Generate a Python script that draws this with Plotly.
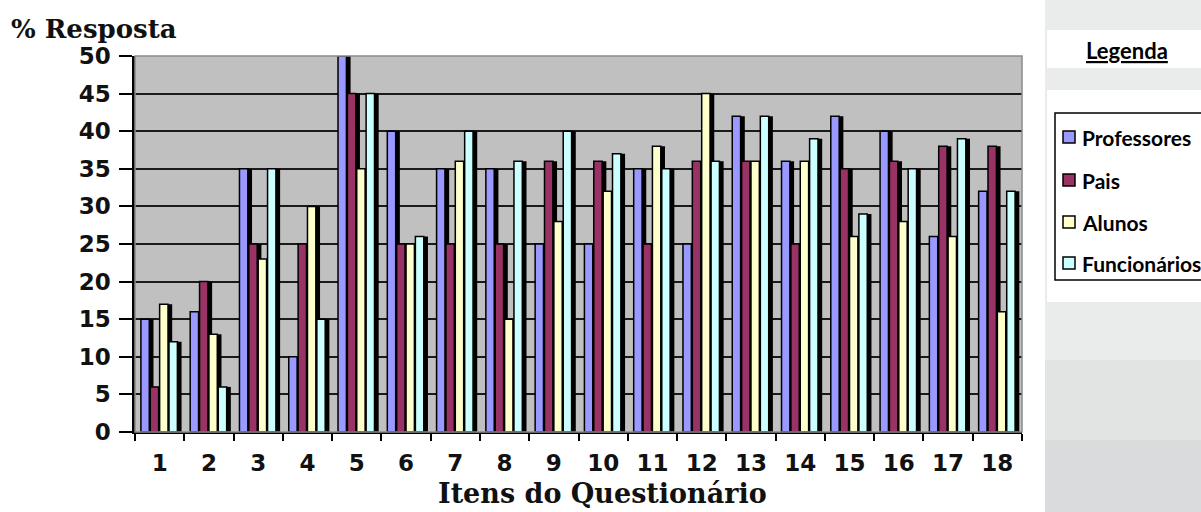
import plotly.graph_objects as go

itens = list(range(1, 19))
tick_labels = [str(i) for i in itens]
series_names = ["Professores", "Pais", "Alunos", "Funcionários"]
professores = [15, 16, 35, 10, 50, 40, 35, 35, 25, 25, 35, 25, 42, 36, 42, 40, 26, 32]
pais = [6, 20, 25, 25, 45, 25, 25, 25, 36, 36, 25, 36, 36, 25, 35, 36, 38, 38]
alunos = [17, 13, 23, 30, 35, 25, 36, 15, 28, 32, 38, 45, 36, 36, 26, 28, 26, 16]
funcionarios = [12, 6, 35, 15, 45, 26, 40, 36, 40, 37, 35, 36, 42, 39, 29, 35, 39, 32]
values = [professores, pais, alunos, funcionarios]
colors = ["#9999FF", "#993366", "#FFFFCC", "#CCFFFF"]

W, H = 1201, 512
ml, mr, mt, mb = 135, 179, 56, 80
pw, ph = W - ml - mr, H - mt - mb

def px(x):
    return (x - ml) / pw

def py(y):
    return (H - mb - y) / ph

fig = go.Figure()

bw = 0.17
pitch = 0.19
start = -0.38
# 3D-like shadows first
for i, vals in enumerate(values):
    fig.add_trace(go.Bar(
        x=itens, y=vals, offset=start + pitch * i + 0.085, width=bw,
        marker=dict(color="#000000", line=dict(width=0)),
        showlegend=False, hoverinfo="skip"))
for i, (name, vals) in enumerate(zip(series_names, values)):
    fig.add_trace(go.Bar(
        x=itens, y=vals, name=name, offset=start + pitch * i, width=bw,
        showlegend=False,
        marker=dict(color=colors[i], line=dict(color="#000000", width=1.5))))

shapes = [
    # right side panel (light gradient approximated by bands)
    dict(type="rect", xref="paper", yref="paper", x0=px(1045), x1=px(1205), y0=py(520), y1=py(-5),
         fillcolor="#eaebeb", line=dict(width=0), layer="below"),
    dict(type="rect", xref="paper", yref="paper", x0=px(1045), x1=px(1205), y0=py(520), y1=py(360),
         fillcolor="#e2e4e4", line=dict(width=0), layer="below"),
    dict(type="rect", xref="paper", yref="paper", x0=px(1045), x1=px(1205), y0=py(520), y1=py(440),
         fillcolor="#d9dbdc", line=dict(width=0), layer="below"),
    dict(type="rect", xref="paper", yref="paper", x0=px(1047), x1=px(1205), y0=py(68), y1=py(30),
         fillcolor="#ffffff", line=dict(width=0), layer="below"),
    dict(type="rect", xref="paper", yref="paper", x0=px(1047), x1=px(1205), y0=py(302), y1=py(90),
         fillcolor="#ffffff", line=dict(width=0), layer="below"),
    # legend box
    dict(type="rect", xref="paper", yref="paper", x0=px(1055), x1=px(1210), y0=py(280), y1=py(113),
         fillcolor="#ffffff", line=dict(color="#000000", width=1.5), layer="below"),
    # plot border
    dict(type="rect", xref="paper", yref="paper", x0=0, x1=1, y0=0, y1=1,
         line=dict(color="#8a8a8a", width=1.5), layer="above"),
]

annotations = [
    dict(text="% Resposta", xref="paper", yref="paper", x=px(9), y=py(29),
         xanchor="left", yanchor="middle", showarrow=False,
         font=dict(family="DejaVu Serif", size=26, color="#111111", weight="bold")),
    dict(text="Itens do Questionário", xref="paper", yref="paper", x=px(602), y=py(494),
         xanchor="center", yanchor="middle", showarrow=False,
         font=dict(family="DejaVu Serif", size=27, color="#111111", weight="bold")),
    dict(text="<u>Legenda</u>", xref="paper", yref="paper", x=px(1127), y=py(50),
         xanchor="center", yanchor="middle", showarrow=False,
         font=dict(family="Lato", size=22, color="#000000", weight="bold")),
]

row_y = [137, 180, 222, 263]
for i, name in enumerate(series_names):
    shapes.append(dict(type="rect", xref="paper", yref="paper",
                       x0=px(1063), x1=px(1075), y0=py(row_y[i] + 6), y1=py(row_y[i] - 6),
                       fillcolor=colors[i], line=dict(color="#000000", width=1.5)))
    annotations.append(dict(text=name, xref="paper", yref="paper", x=px(1080), y=py(row_y[i]),
                            xanchor="left", yanchor="middle", showarrow=False,
                            font=dict(family="Lato", size=21, color="#000000", weight="bold")))

fig.update_layout(
    width=W, height=H,
    margin=dict(l=ml, r=mr, t=mt, b=mb, pad=0),
    paper_bgcolor="#ffffff", plot_bgcolor="#C0C0C0",
    barmode="overlay",
    shapes=shapes,
    annotations=annotations,
    showlegend=False,
    xaxis=dict(
        range=[0.5, 18.5], tickmode="array", tickvals=itens, ticktext=tick_labels,
        ticks="", showgrid=False, zeroline=False, automargin=False,
        showline=True, linecolor="#000000", linewidth=2,
        tickfont=dict(family="DejaVu Sans", size=23, color="#111111", weight="bold"),
        ticklabelstandoff=9,
        minor=dict(tickvals=[i + 0.5 for i in range(0, 19)], ticks="outside",
                   ticklen=7, tickcolor="#000000", tickwidth=2, showgrid=False),
    ),
    yaxis=dict(
        range=[0, 50], dtick=5, ticks="outside", ticklen=13, tickcolor="#000000", tickwidth=2,
        showgrid=True, gridcolor="#1a1a1a", gridwidth=1.5, zeroline=False, automargin=False,
        showline=True, linecolor="#000000", linewidth=2.5,
        tickfont=dict(family="DejaVu Sans", size=23, color="#111111", weight="bold"),
        ticklabelstandoff=4,
    ),
)

fig.write_html("out.html", config={"displayModeBar": False},
               post_script="document.body.style.margin='0';")
